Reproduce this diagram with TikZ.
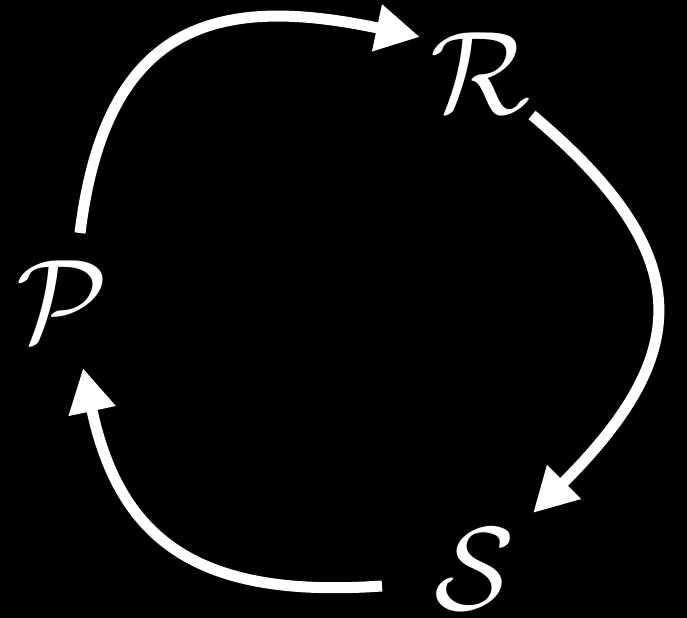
\documentclass[tikz,border=0pt]{standalone}
\usepackage{amsmath}
\usetikzlibrary{arrows.meta}

\newcommand{\bigcal}[2]{\scalebox{#1}{$\mathcal{#2}$}}

\begin{document}
\begin{tikzpicture}[x=0.02cm, y=0.02cm,
  lett/.style={text=white, inner sep=0pt, font=\Huge},
  arr/.style={white, line width=0.22cm, -{Triangle[length=0.88cm, width=0.9cm]}}]
% background:
\fill[black] (0,0) rectangle (687,618);
\useasboundingbox (0,0) rectangle (687,618);
% states:
\node[lett] (P) at (62,317) {\bigcal{2.7}{P}};
\node[lett] (R) at (481,545) {\bigcal{2.7}{R}};
\node[lett] (S) at (475,49) {\bigcal{2.7}{S}};
% P to R:
\draw[arr] ([shift={(18,68)}]P.center) .. controls +(83:210) and +(168:210) .. ([shift={(-61,36)}]R.center);
% R to S:
\draw[arr] ([shift={(51,-42)}]R.center) .. controls +(-40:222) and +(45:222) .. ([shift={(58,56)}]S.center);
% S to P:
\draw[arr] ([shift={(-93,-17)}]S.center) .. controls +(184:180) and +(-78:180) .. ([shift={(21,-67)}]P.center);
\end{tikzpicture}
\end{document}
